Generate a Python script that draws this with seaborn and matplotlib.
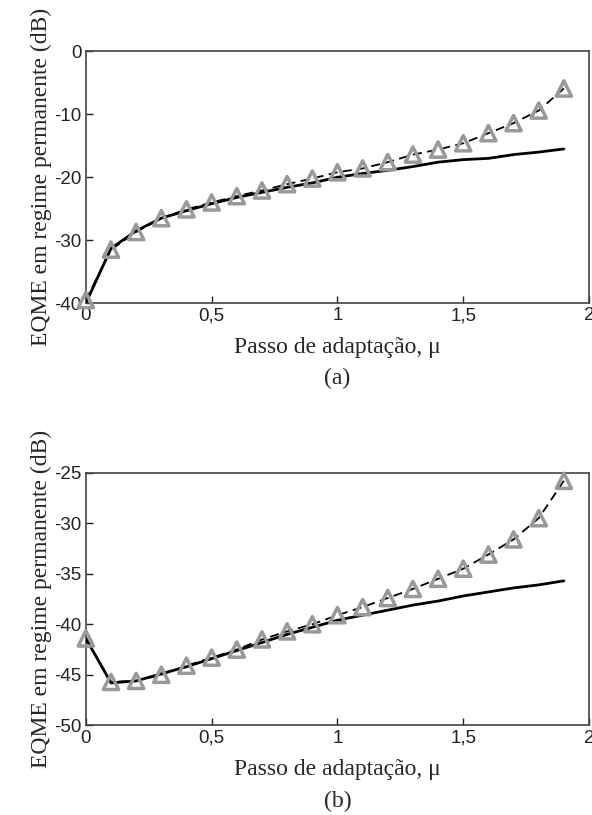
import numpy as np
import pandas as pd
import matplotlib
matplotlib.use('Agg')
import matplotlib.pyplot as plt
import seaborn as sns

# passo de adaptação
mu = [0.0, 0.1, 0.2, 0.3, 0.4, 0.5, 0.6, 0.7, 0.8, 0.9,
      1.0, 1.1, 1.2, 1.3, 1.4, 1.5, 1.6, 1.7, 1.8, 1.9]

# (a) simulação (linha cheia) e teoria (triângulos)
sim_a = [-40.0, -31.3, -28.5, -26.5, -25.3, -24.2, -23.2, -22.4, -21.6, -20.9,
         -20.0, -19.4, -18.9, -18.3, -17.6, -17.2, -17.0, -16.4, -16.0, -15.5]
teo_a = [-39.5, -31.5, -28.7, -26.5, -25.1, -24.0, -23.0, -22.1, -21.1, -20.2,
         -19.2, -18.6, -17.6, -16.4, -15.6, -14.6, -13.0, -11.4, -9.4, -5.9]

# (b)
sim_b = [-41.4, -45.8, -45.6, -44.9, -44.2, -43.4, -42.6, -41.8, -41.0, -40.3,
         -39.6, -39.1, -38.6, -38.1, -37.7, -37.2, -36.8, -36.4, -36.1, -35.7]
teo_b = [-41.4, -45.7, -45.6, -45.0, -44.1, -43.3, -42.5, -41.5, -40.7, -40.0,
         -39.1, -38.3, -37.4, -36.5, -35.5, -34.5, -33.1, -31.6, -29.5, -25.8]

x_ticks = [0, 0.5, 1, 1.5, 2]
x_ticklabels = ['0', '0,5', '1', '1,5', '2']
yticks_a = [-40, -30, -20, -10, 0]
yticks_b = [-50, -45, -40, -35, -30, -25]

sns.set_style('ticks')
plt.rcParams['font.family'] = ['Liberation Sans', 'DejaVu Sans']

fig = plt.figure(figsize=(5.92, 8.15), dpi=100)
ax_a = fig.add_axes([0.145, 0.628, 0.850, 0.309])
ax_b = fig.add_axes([0.145, 0.110, 0.850, 0.310])

serif = ['Liberation Serif', 'DejaVu Serif']

panels = [(ax_a, sim_a, teo_a, yticks_a, '(a)'),
          (ax_b, sim_b, teo_b, yticks_b, '(b)')]

for ax, sim, teo, yt, tag in panels:
    df = pd.DataFrame({'mu': mu, 'sim': sim, 'teo': teo})
    sns.lineplot(data=df, x='mu', y='teo', ax=ax, color='black',
                 linestyle=(0, (5, 3)), linewidth=1.3, zorder=2)
    sns.lineplot(data=df, x='mu', y='sim', ax=ax, color='black',
                 linewidth=2.0, zorder=3)
    sns.scatterplot(data=df, x='mu', y='teo', ax=ax, marker='^', s=120,
                    facecolor='none', edgecolor='#999999', linewidth=2.5,
                    zorder=4, clip_on=False)
    ax.set_xlim(0, 2)
    ax.set_ylim(yt[0], yt[-1])
    ax.set_xticks(x_ticks)
    ax.set_xticklabels(x_ticklabels)
    ax.set_yticks(yt)
    ax.set_yticklabels([str(v) for v in yt])
    ax.tick_params(direction='in', length=5, width=1, labelsize=13.5,
                   colors='#222222', pad=3)
    for sp in ax.spines.values():
        sp.set_visible(True)
        sp.set_color('#444444')
        sp.set_linewidth(1.2)
    ax.set_xlabel('Passo de adaptação, μ', family=serif, fontsize=17,
                  labelpad=9)
    ax.set_ylabel('EQME em regime permanente (dB)', family=serif,
                  fontsize=17, labelpad=2)
    ax.text(0.5, -0.30, tag, transform=ax.transAxes, ha='center',
            va='center', family=serif, fontsize=17)

fig.savefig('out.png', dpi=100)
